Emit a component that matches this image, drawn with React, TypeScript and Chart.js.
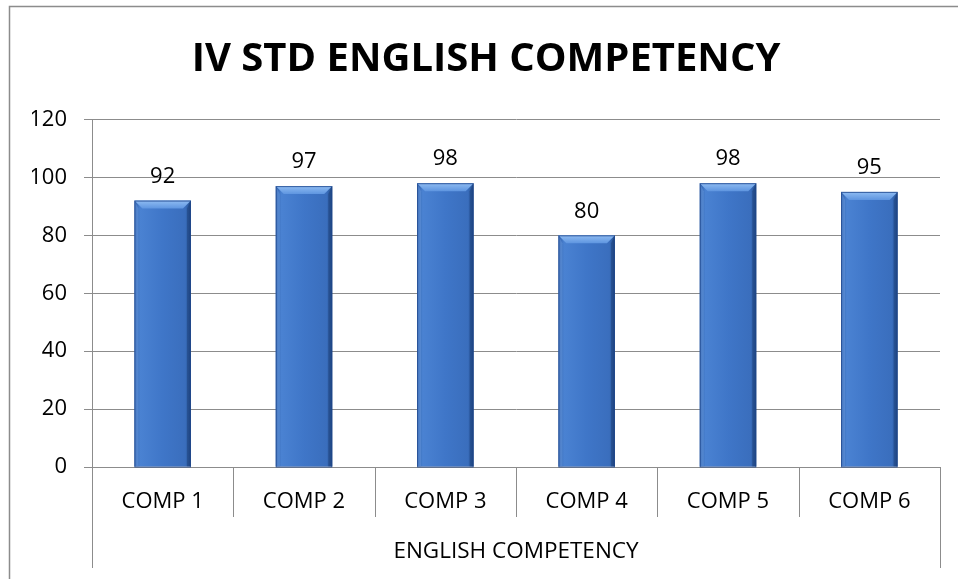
import React, { useEffect, useRef } from "react";
import { Chart, registerables } from "chart.js";

Chart.register(...registerables);

const categories = ["COMP 1", "COMP 2", "COMP 3", "COMP 4", "COMP 5", "COMP 6"];
const values = [92, 97, 98, 80, 98, 95];
const groupLabel = "ENGLISH COMPETENCY";
const chartTitle = "IV STD ENGLISH COMPETENCY";
const yMin = 0;
const yMax = 120;
const yStep = 20;

const GRID = "#8c8c8c";
const FONT = "'Open Sans', 'Noto Sans', sans-serif";

const framePlugin = {
  id: "frame",
  beforeDraw(chart: any) {
    const ctx = chart.ctx;
    ctx.save();
    ctx.fillStyle = "#ffffff";
    ctx.fillRect(0, 0, chart.width, chart.height);
    ctx.strokeStyle = GRID;
    ctx.lineWidth = 1.5;
    ctx.strokeRect(9.5, 6.5, chart.width + 100, chart.height + 100);
    ctx.restore();
  },
};

const categoryLinesPlugin = {
  id: "catLines",
  afterDraw(chart: any) {
    const { left, right, bottom } = chart.chartArea;
    const n = categories.length;
    const w = (right - left) / n;
    const ctx = chart.ctx;
    ctx.save();
    ctx.strokeStyle = GRID;
    ctx.lineWidth = 1;
    for (let i = 0; i <= n; i++) {
      const x = Math.round(left + i * w) + 0.5;
      const outer = i === 0 || i === n;
      ctx.beginPath();
      ctx.moveTo(x, bottom);
      ctx.lineTo(x, outer ? bottom + 101 : bottom + 50);
      ctx.stroke();
    }
    ctx.restore();
  },
};

const bevelPlugin = {
  id: "bevel",
  afterDatasetsDraw(chart: any) {
    const ctx = chart.ctx;
    const meta = chart.getDatasetMeta(0);
    ctx.save();
    meta.data.forEach((el: any, i: number) => {
      const { x, y, base, width } = el.getProps(["x", "y", "base", "width"], true);
      const l = x - width / 2;
      const r = x + width / 2;
      const b = 8;
      const g = ctx.createLinearGradient(l, 0, r, 0);
      g.addColorStop(0, "#2f5ea8");
      g.addColorStop(0.1, "#4a82d2");
      g.addColorStop(0.5, "#3f76c8");
      g.addColorStop(0.9, "#3a6ebd");
      g.addColorStop(1, "#24508f");
      ctx.fillStyle = g;
      ctx.fillRect(l, y, width, base - y);
      const tg = ctx.createLinearGradient(0, y, 0, y + b);
      tg.addColorStop(0, "#8fbcf2");
      tg.addColorStop(1, "#5e95e0");
      ctx.fillStyle = tg;
      ctx.beginPath();
      ctx.moveTo(l, y);
      ctx.lineTo(r, y);
      ctx.lineTo(r - b, y + b);
      ctx.lineTo(l + b, y + b);
      ctx.closePath();
      ctx.fill();
      ctx.fillStyle = "rgba(120,170,235,0.35)";
      ctx.beginPath();
      ctx.moveTo(l, y);
      ctx.lineTo(l + 4, y + b);
      ctx.lineTo(l + 4, base);
      ctx.lineTo(l, base);
      ctx.closePath();
      ctx.fill();
      ctx.fillStyle = "rgba(20,50,100,0.35)";
      ctx.beginPath();
      ctx.moveTo(r, y);
      ctx.lineTo(r - 4, y + b);
      ctx.lineTo(r - 4, base);
      ctx.lineTo(r, base);
      ctx.closePath();
      ctx.fill();
      ctx.strokeStyle = "rgba(30,70,140,0.8)";
      ctx.lineWidth = 1;
      ctx.strokeRect(l + 0.5, y + 0.5, width - 1, base - y);
      ctx.fillStyle = "#000000";
      ctx.font = `22px ${FONT}`;
      ctx.textAlign = "center";
      ctx.textBaseline = "middle";
      ctx.fillText(String(values[i]), x, y - 24);
    });
    ctx.restore();
  },
};

export default function App() {
  const ref = useRef<HTMLCanvasElement | null>(null);
  useEffect(() => {
    if (!ref.current) return;
    const chart = new Chart(ref.current, {
      type: "bar",
      data: {
        labels: categories,
        datasets: [
          {
            data: values,
            backgroundColor: "rgba(0,0,0,0)",
            borderWidth: 0,
            barPercentage: 0.4,
            categoryPercentage: 1.0,
          },
        ],
      },
      options: {
        responsive: false,
        animation: false,
        devicePixelRatio: 1,
        layout: { padding: { left: 32, right: 18, top: 0, bottom: 0 } },
        plugins: {
          legend: { display: false },
          tooltip: { enabled: false },
          title: {
            display: true,
            text: chartTitle,
            color: "#000000",
            font: { family: FONT, size: 40, weight: "bold" },
            padding: { top: 36, bottom: 35.5 },
          },
        },
        scales: {
          x: {
            grid: { display: false, drawTicks: false },
            border: { display: false },
            ticks: {
              color: "#000000",
              font: { family: FONT, size: 22 },
              padding: 22,
              maxRotation: 0,
            },
            title: {
              display: true,
              text: groupLabel,
              color: "#000000",
              font: { family: FONT, size: 22.5 },
              padding: { top: 0, bottom: 14 },
            },
            afterFit(scale: any) {
              scale.height = 112;
            },
          },
          y: {
            min: yMin,
            max: yMax,
            ticks: {
              stepSize: yStep,
              color: "#000000",
              font: { family: FONT, size: 22 },
              padding: 17,
            },
            grid: { color: GRID, tickLength: 8, lineWidth: 1 },
            border: { display: true, color: GRID },
            afterFit(scale: any) {
              scale.width = 60;
            },
          },
        },
      },
      plugins: [framePlugin, categoryLinesPlugin, bevelPlugin],
    });
    return () => chart.destroy();
  }, []);
  return (
    <div style={{ position: "fixed", left: 0, top: 0, width: 958, height: 579, overflow: "hidden" }}>
      <canvas ref={ref} width={958} height={579} style={{ display: "block" }} />
    </div>
  );
}
